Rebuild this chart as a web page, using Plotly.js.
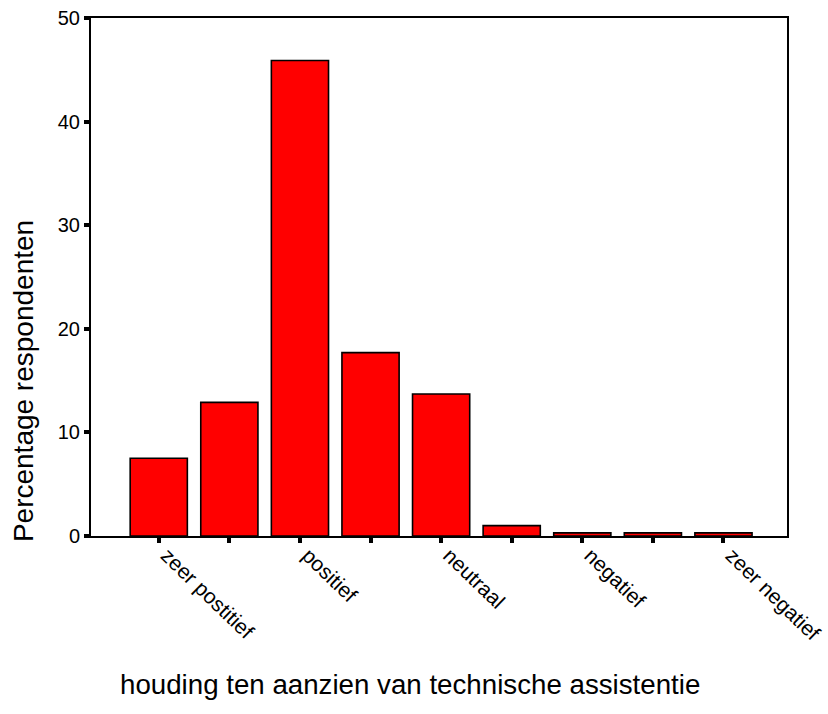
<!DOCTYPE html>
<html>
<head>
<meta charset="utf-8">
<script src="https://cdn.plot.ly/plotly-3.0.1.min.js"></script>
<style>html,body{margin:0;padding:0;background:#fff;}#chart{width:828px;height:714px;}</style>
</head>
<body>
<div id="chart"></div>
<script>
// Data
var categories = ["zeer postitief", "2", "positief", "4", "neutraal", "6", "negatief", "8", "zeer negatief"];
var tickLabels = ["zeer postitief", "", "positief", "", "neutraal", "", "negatief", "", "zeer negatief"];
var percentages = [7.5, 12.9, 45.9, 17.7, 13.7, 1.0, 0.3, 0.3, 0.3];
var yTicks = [0, 10, 20, 30, 40, 50];

var positions = categories.map(function (c, i) { return i; });

var trace = {
  type: "bar",
  x: positions,
  y: percentages,
  text: categories,
  hoverinfo: "text+y",
  textposition: "none",
  marker: { color: "#ff0000", line: { color: "#000000", width: 1.6 } }
};

var fam = "Liberation Sans, Arial, sans-serif";

var layout = {
  width: 828,
  height: 714,
  margin: { l: 91, r: 41, t: 18, b: 178 },
  paper_bgcolor: "#ffffff",
  plot_bgcolor: "#ffffff",
  showlegend: false,
  bargap: 0.19,
  font: { family: fam, color: "#000", size: 20 },
  xaxis: {
    range: [-0.96, 8.9],
    tickmode: "array",
    tickvals: positions,
    ticktext: tickLabels,
    tickangle: 44,
    ticks: "outside",
    ticklen: 5,
    tickwidth: 4,
    tickcolor: "#000",
    ticklabelshift: 8,
    ticklabelstandoff: -8,
    ticklabeloverflow: "allow",
    showline: true,
    linecolor: "#000",
    linewidth: 2,
    mirror: true,
    showgrid: false,
    zeroline: false,
    tickfont: { family: fam, size: 21, color: "#000" }
  },
  yaxis: {
    range: [0, 50],
    tickmode: "array",
    tickvals: yTicks,
    ticktext: yTicks.map(String),
    ticks: "outside",
    ticklen: 5,
    tickwidth: 4,
    tickcolor: "#000",
    showline: true,
    linecolor: "#000",
    linewidth: 2,
    mirror: true,
    showgrid: false,
    zeroline: false,
    tickfont: { family: fam, size: 20, color: "#000" }
  },
  annotations: [
    {
      text: "Percentage respondenten",
      xref: "paper", yref: "paper",
      x: -0.0977, y: 0.299,
      textangle: -90,
      showarrow: false,
      xanchor: "center", yanchor: "middle",
      font: { family: fam, size: 28, color: "#000" }
    },
    {
      text: "houding ten aanzien van technische assistentie",
      xref: "paper", yref: "paper",
      x: 0.459, y: -0.2876,
      showarrow: false,
      xanchor: "center", yanchor: "middle",
      font: { family: fam, size: 27.7, color: "#000" }
    }
  ]
};

Plotly.newPlot("chart", [trace], layout, { staticPlot: true, displayModeBar: false });
</script>
</body>
</html>
